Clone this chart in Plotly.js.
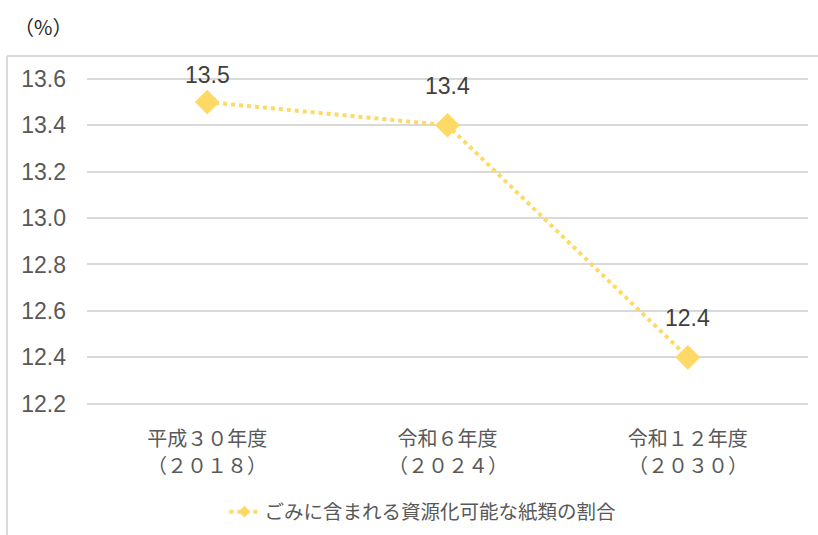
<!DOCTYPE html>
<html>
<head>
<meta charset="utf-8">
<script src="https://cdn.plot.ly/plotly-3.0.1.min.js"></script>
<style>
  html, body { margin: 0; padding: 0; background: #fff; }
  #chart { width: 818px; height: 535px; }
</style>
</head>
<body>
<div id="chart"></div>
<script>
// Fiscal-year categories and their Western-calendar years
const categories = ['平成３０年度', '令和６年度', '令和１２年度'];
const fiscalYears = ['（２０１８）', '（２０２４）', '（２０３０）'];
// Share of recyclable paper contained in waste (%)
const paperShare = [13.5, 13.4, 12.4];
const seriesName = 'ごみに含まれる資源化可能な紙類の割合';
const yTicks = [12.2, 12.4, 12.6, 12.8, 13.0, 13.2, 13.4, 13.6];

const LATIN = '"Liberation Sans", "Noto Sans CJK JP", sans-serif';
const CJK = '"Noto Sans CJK JP", sans-serif';
const TEXT = '#595959';
const GOLD = '#FFD966';
const GRID = '#D9D9D9';

// vertical offsets of the value labels above each marker
const labelShift = [27, 39, 39];

const lineStyle = { color: GOLD, width: 4, dash: '4px,4px' };

const traces = [
  {
    type: 'scatter',
    mode: 'lines+markers',
    name: seriesName,
    x: categories,
    y: paperShare,
    line: lineStyle,
    marker: { symbol: 'diamond', size: 19, color: GOLD },
    cliponaxis: false,
    showlegend: false,
    hoverinfo: 'skip'
  },
  // legend entry drawn with a smaller diamond
  {
    type: 'scatter',
    mode: 'lines+markers',
    name: seriesName,
    x: [null], y: [null],
    line: lineStyle,
    marker: { symbol: 'diamond', size: 9, color: GOLD },
    showlegend: true,
    hoverinfo: 'skip'
  }
];

// value labels above the markers
const annotations = categories.map((c, i) => ({
  x: c, y: paperShare[i], xref: 'x', yref: 'y',
  text: paperShare[i].toFixed(1),
  showarrow: false, yshift: labelShift[i],
  font: { family: LATIN, size: 23, color: '#404040' }
}));
// second line of each category label
fiscalYears.forEach((yr, i) => annotations.push({
  x: categories[i], xref: 'x', yref: 'paper', y: -0.179,
  yanchor: 'middle', showarrow: false, text: yr,
  font: { family: CJK, size: 20, color: TEXT }
}));
// unit label
annotations.push({
  xref: 'paper', yref: 'paper', x: -0.104, y: 1.152,
  xanchor: 'left', yanchor: 'middle', showarrow: false,
  text: '（%）', font: { family: CJK, size: 20, color: '#262626' }
});

const layout = {
  width: 818, height: 535,
  margin: { l: 87, r: 10, t: 77, b: 129 },
  paper_bgcolor: '#fff', plot_bgcolor: '#fff',
  font: { family: LATIN, color: TEXT, size: 17 },
  showlegend: true,
  legend: {
    orientation: 'h', xref: 'container', yref: 'container',
    x: 0.517, xanchor: 'center', y: 0.043, yanchor: 'middle',
    font: { family: CJK, size: 19.5, color: TEXT }
  },
  xaxis: {
    type: 'category', range: [-0.5, 2.5], showgrid: false, zeroline: false,
    showline: false, ticks: '', tickfont: { family: CJK, size: 20, color: TEXT },
    ticklabelstandoff: 19, fixedrange: true, automargin: false
  },
  yaxis: {
    range: [12.19, 13.608], tickvals: yTicks, ticktext: yTicks.map(v => v.toFixed(1)),
    showgrid: true, gridcolor: GRID, gridwidth: 2, zeroline: false,
    showline: false, ticks: '', tickfont: { family: LATIN, size: 23, color: TEXT },
    ticklabelstandoff: 20, fixedrange: true, automargin: false
  },
  annotations: annotations,
  shapes: [
    // chart frame: left and top edges
    { type: 'line', xref: 'paper', yref: 'paper', x0: -0.111, x1: -0.111, y0: -0.45, y1: 1.0638,
      line: { color: GRID, width: 2 } },
    { type: 'line', xref: 'paper', yref: 'paper', x0: -0.111, x1: 1.02, y0: 1.0638, y1: 1.0638,
      line: { color: GRID, width: 2 } }
  ]
};

Plotly.newPlot('chart', traces, layout, { displayModeBar: false, staticPlot: true });
</script>
</body>
</html>
